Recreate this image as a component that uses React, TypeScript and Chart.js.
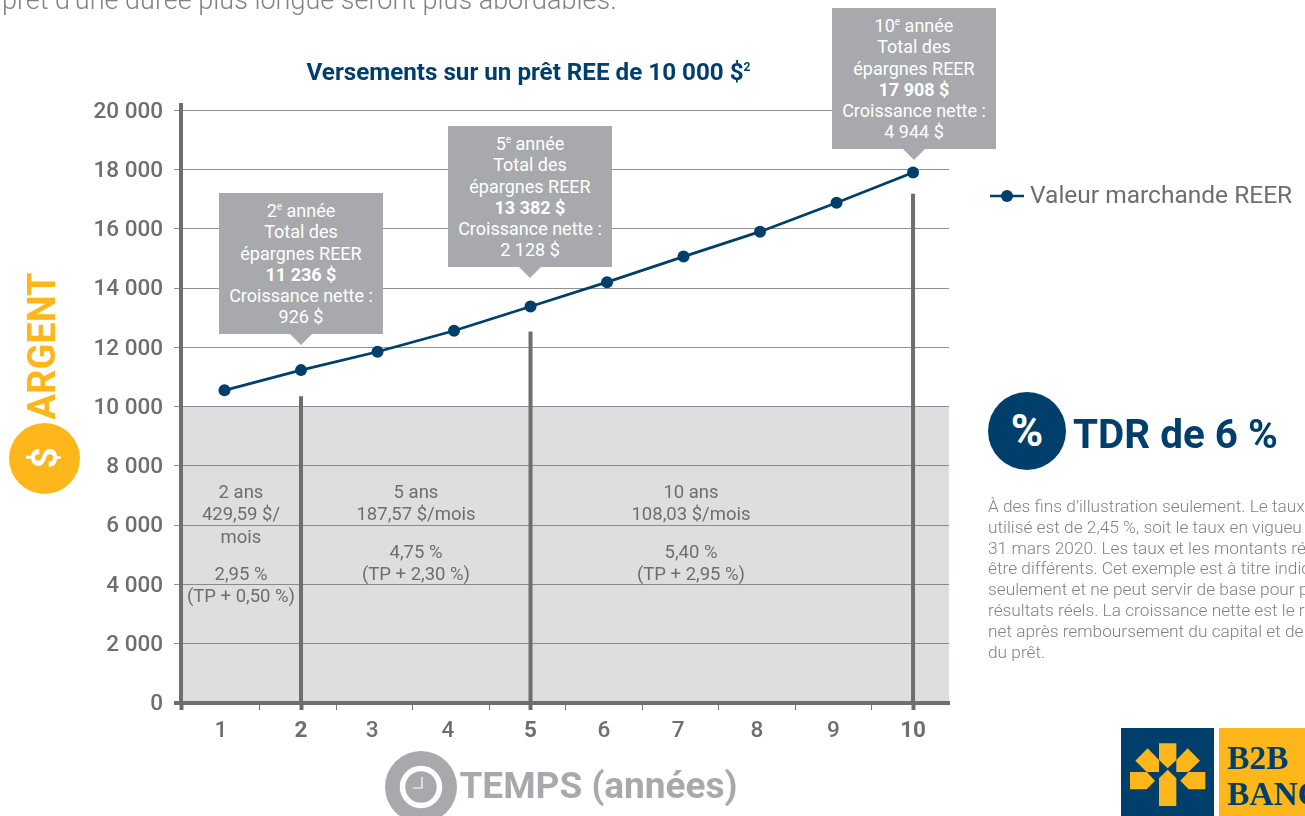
import React, { useEffect, useRef } from "react";
import { Chart, registerables } from "chart.js";

Chart.register(...registerables);

const FONT = "Roboto, 'Noto Sans', sans-serif";
const GREY = "#6d6e71";
const LIGHT = "#a7a9ac";
const NAVY = "#003f6b";
const ORANGE = "#fdb71a";

// ---- data ----
const years = [1, 2, 3, 4, 5, 6, 7, 8, 9, 10];
const marketValue = [10554, 11236, 11858, 12565, 13382, 14206, 15068, 15910, 16888, 17908];
const markerYears = [2, 5, 10];
const markerTops = [10350, 12540, 17190];
const bandTop = 10000;
const yTickValues = [0, 2000, 4000, 6000, 8000, 10000, 12000, 14000, 16000, 18000, 20000];
const boldYears = [2, 5, 10];
const seriesName = "Valeur marchande REER";

// axis ranges and label anchors, in axis units
const xMin = 0.4314;
const xMax = 10.47;
const yMax = 20185;
const xBoundaries = [1.46, 2.46, 3.46, 4.46, 5.46, 6.46, 7.46, 8.46, 9.46];
const xLabelAt = [0.954, 2, 2.93, 3.92, 5, 5.96, 6.93, 7.96, 8.96, 10];

const callouts = [
  { left: 219, top: 193, lines: ["2|e| année", "Total des", "épargnes REER", "*11 236 $", "Croissance nette :", "926 $"] },
  { left: 448, top: 126, lines: ["5|e| année", "Total des", "épargnes REER", "*13 382 $", "Croissance nette :", "2 128 $"] },
  { left: 832, top: 8, lines: ["10|e| année", "Total des", "épargnes REER", "*17 908 $", "Croissance nette :", "4 944 $"] },
];

const termNotes = [
  { cx: 241, rows: [[492, "2 ans"], [514, "429,59 $/"], [537, "mois"], [574, "2,95 %"], [596, "(TP + 0,50 %)"]] },
  { cx: 416, rows: [[492, "5 ans"], [514, "187,57 $/mois"], [552, "4,75 %"], [574, "(TP + 2,30 %)"]] },
  { cx: 691, rows: [[492, "10 ans"], [514, "108,03 $/mois"], [552, "5,40 %"], [574, "(TP + 2,95 %)"]] },
];

const disclaimer = [
  "À des fins d’illustration seulement. Le taux",
  "utilisé est de 2,45 %, soit le taux en vigueu",
  "31 mars 2020. Les taux et les montants ré",
  "être différents. Cet exemple est à titre indic",
  "seulement et ne peut servir de base pour p",
  "résultats réels. La croissance nette est le r",
  "net après remboursement du capital et de",
  "du prêt.",
];

function spaced(v: number) {
  return String(v).replace(/\B(?=(\d{3})+$)/g, " ");
}

function Label({ x, y, children, style }: any) {
  return (
    <div
      style={{
        position: "absolute",
        left: x,
        top: y,
        transform: "translate(-50%,-50%)",
        whiteSpace: "nowrap",
        fontFamily: FONT,
        ...style,
      }}
    >
      {children}
    </div>
  );
}

function CalloutLine({ text }: { text: string }) {
  if (text.startsWith("*")) return <b style={{ fontWeight: 700 }}>{text.slice(1)}</b>;
  if (text.includes("|")) {
    const [a, b, c] = text.split("|");
    return (
      <>
        {a}
        <sup style={{ fontSize: 10, lineHeight: 0 }}>{b}</sup>
        {c}
      </>
    );
  }
  return <>{text}</>;
}

export default function App() {
  const ref = useRef<HTMLCanvasElement>(null);

  useEffect(() => {
    document.body.style.margin = "0";
    document.body.style.overflow = "hidden";
    const markerSets = markerYears.map((yr, i) => ({
      type: "line" as const,
      label: `marker ${yr}`,
      data: [
        { x: yr, y: 0 },
        { x: yr, y: markerTops[i] },
      ],
      borderColor: GREY,
      borderWidth: 4,
      pointRadius: 0,
      fill: false,
    }));
    const chart = new Chart(ref.current!, {
      type: "line",
      data: {
        datasets: [
          {
            label: seriesName,
            data: years.map((yr, i) => ({ x: yr, y: marketValue[i] })),
            borderColor: NAVY,
            backgroundColor: NAVY,
            borderWidth: 2.7,
            pointRadius: 6,
            pointBackgroundColor: NAVY,
            pointBorderColor: NAVY,
            pointBorderWidth: 0,
            tension: 0,
            fill: false,
          },
          ...markerSets,
          {
            label: "band",
            data: [
              { x: xMin, y: bandTop },
              { x: xMax, y: bandTop },
            ],
            borderWidth: 0,
            pointRadius: 0,
            fill: "origin",
            backgroundColor: "rgba(110,115,123,0.235)",
          },
        ],
      },
      options: {
        animation: false,
        responsive: false,
        maintainAspectRatio: false,
        layout: { padding: { left: 0, top: 105, right: 356, bottom: 0 } },
        plugins: { legend: { display: false }, tooltip: { enabled: false }, title: { display: false } },
        scales: {
          x: {
            type: "linear",
            min: xMin,
            max: xMax,
            bounds: "data",
            afterFit: (s: any) => {
              s.height = 113;
            },
            afterBuildTicks: (s: any) => {
              const vals = [xMin, ...xBoundaries, ...xLabelAt].sort((a, b) => a - b);
              s.ticks = vals.map((value) => ({ value }));
            },
            border: { color: GREY, width: 4 },
            grid: {
              drawOnChartArea: false,
              drawTicks: true,
              tickLength: 7,
              tickWidth: (c: any) => (c.tick && (c.tick.value === xMin || markerYears.includes(c.tick.value)) ? 4 : 1),
              tickColor: (c: any) => {
                const v = c.tick ? c.tick.value : 0;
                if (xBoundaries.includes(v) || v === xMin || markerYears.includes(v)) return GREY;
                return "transparent";
              },
            },
            ticks: {
              autoSkip: false,
              maxRotation: 0,
              minRotation: 0,
              padding: 8,
              color: GREY,
              callback: (v: any) => {
                const i = xLabelAt.indexOf(v);
                return i >= 0 ? String(years[i]) : "";
              },
              font: (c: any) => {
                const i = c.tick ? xLabelAt.indexOf(c.tick.value) : -1;
                const bold = i >= 0 && boldYears.includes(years[i]);
                return { family: FONT, size: 22.5, weight: bold ? "bold" : "500" };
              },
            },
          },
          y: {
            type: "linear",
            min: 0,
            max: yMax,
            bounds: "data",
            afterFit: (s: any) => {
              s.width = 181;
            },
            afterBuildTicks: (s: any) => {
              s.ticks = yTickValues.map((value) => ({ value }));
            },
            border: { color: GREY, width: 4 },
            grid: {
              color: "#8f9093",
              lineWidth: (c: any) => (c.tick && c.tick.value === 0 ? 0 : 1),
              tickLength: 7,
              tickColor: (c: any) => (c.tick && c.tick.value === 0 ? GREY : "#8f9093"),
              tickWidth: (c: any) => (c.tick && c.tick.value === 0 ? 4 : 1),
            },
            ticks: {
              autoSkip: false,
              padding: 11,
              labelOffset: 1.5,
              color: GREY,
              font: { family: FONT, size: 22.5, weight: "500" },
              callback: (v: any) => spaced(v),
            },
          },
        },
      },
    });
    return () => chart.destroy();
  }, []);

  return (
    <div style={{ position: "absolute", left: 0, top: 0, width: 1305, height: 816, overflow: "hidden", background: "#fff" }}>
      <canvas ref={ref} width={1305} height={816} style={{ position: "absolute", left: 0, top: 0, width: 1305, height: 816 }} />

      <div
        style={{
          position: "absolute",
          left: 2,
          top: -15,
          fontFamily: FONT,
          fontWeight: 300,
          fontSize: 27,
          lineHeight: "30px",
          color: "#808285",
          whiteSpace: "nowrap",
        }}
      >
        prêt d’une durée plus longue seront plus abordables.
      </div>

      <Label x={528.5} y={72} style={{ fontSize: 24.2, fontWeight: 700, color: NAVY }}>
        Versements sur un prêt REE de 10 000 $<sup style={{ fontSize: 12, lineHeight: 0 }}>2</sup>
      </Label>

      {callouts.map((c, i) => (
        <React.Fragment key={i}>
          <div
            style={{
              position: "absolute",
              left: c.left,
              top: c.top,
              width: 164,
              height: 141,
              boxSizing: "border-box",
              paddingTop: 7,
              background: LIGHT,
              color: "#fff",
              fontFamily: FONT,
              fontSize: 18,
              lineHeight: "21.3px",
              textAlign: "center",
              whiteSpace: "nowrap",
            }}
          >
            {c.lines.map((l, j) => (
              <div key={j}>
                <CalloutLine text={l} />
              </div>
            ))}
          </div>
          <div
            style={{
              position: "absolute",
              left: c.left + 71,
              top: c.top + 141,
              width: 22,
              height: 11,
              background: LIGHT,
              clipPath: "polygon(0 0, 100% 0, 50% 100%)",
            }}
          />
        </React.Fragment>
      ))}

      {termNotes.map((n, i) =>
        n.rows.map(([y, t], j) => (
          <Label key={`${i}-${j}`} x={n.cx} y={y} style={{ fontSize: 18.5, color: GREY }}>
            {t}
          </Label>
        ))
      )}

      {/* legend */}
      <svg style={{ position: "absolute", left: 990, top: 186 }} width={36} height={20}>
        <line x1={0} x2={34} y1={10} y2={10} stroke={NAVY} strokeWidth={2.7} />
        <circle cx={17} cy={10} r={6} fill={NAVY} />
      </svg>
      <div style={{ position: "absolute", left: 1030, top: 181, fontFamily: FONT, fontSize: 24.5, lineHeight: "28px", color: GREY, whiteSpace: "nowrap" }}>
        {seriesName}
      </div>

      {/* left axis title */}
      <Label x={42} y={346} style={{ transform: "translate(-50%,-50%) rotate(-90deg)", fontSize: 38, fontWeight: 700, color: ORANGE }}>
        ARGENT
      </Label>
      <div style={{ position: "absolute", left: 9, top: 423, width: 71, height: 71, borderRadius: "50%", background: ORANGE }} />
      <Label x={44} y={458} style={{ transform: "translate(-50%,-50%) rotate(-90deg)", fontSize: 37, fontWeight: 700, color: "#fff" }}>
        $
      </Label>

      {/* bottom axis title */}
      <svg style={{ position: "absolute", left: 385, top: 751, overflow: "visible" }} width={72} height={72}>
        <circle cx={36} cy={36} r={36} fill={LIGHT} />
        <circle cx={36} cy={36} r={18.5} fill="none" stroke="#fff" strokeWidth={5.5} />
        <path d="M37 26 V37 H28" fill="none" stroke="#fff" strokeWidth={1.2} />
      </svg>
      <Label x={598.5} y={785} style={{ fontSize: 37, fontWeight: 700, color: LIGHT }}>
        TEMPS (années)
      </Label>

      {/* TDR */}
      <div style={{ position: "absolute", left: 988, top: 392, width: 78, height: 78, borderRadius: "50%", background: NAVY }} />
      <Label x={1027} y={431} style={{ fontSize: 44, fontWeight: 700, color: "#fff" }}>
        %
      </Label>
      <Label x={1175.5} y={434} style={{ fontSize: 40.4, fontWeight: 700, color: NAVY }}>
        TDR de 6 %
      </Label>

      <div style={{ position: "absolute", left: 988, top: 496, fontFamily: FONT, fontWeight: 300, fontSize: 17.3, lineHeight: "20.8px", color: "#808285", whiteSpace: "nowrap" }}>
        {disclaimer.map((l, i) => (
          <div key={i}>{l}</div>
        ))}
      </div>

      {/* logo */}
      <svg style={{ position: "absolute", left: 1100, top: 710 }} width={205} height={106} viewBox="0 0 615 318">
        <rect x={63} y={54} width={279} height={264} fill={NAVY} />
        <rect x={357} y={54} width={258} height={264} fill={ORANGE} />
        <g fill={ORANGE}>
          <polygon points="177,100 229,100 229,150 203,175 177,150" />
          <polygon points="177,205 203,179 229,205 229,288 177,288" />
          <polygon points="90,186 140,186 165,212 140,238 90,238" />
          <polygon points="316,186 266,186 241,212 266,238 316,238" />
          <polygon points="143,115 177,150 177,186 140,186 106,152" />
          <polygon points="263,115 300,152 265,186 229,186 229,150" />
        </g>
        <text x={382} y={178} fontFamily="'Liberation Serif', serif" fontWeight={700} fontSize={100} fill={NAVY}>B2B</text>
        <text x={382} y={284} fontFamily="'Liberation Serif', serif" fontWeight={700} fontSize={100} fill={NAVY}>BANQUE</text>
      </svg>
    </div>
  );
}
